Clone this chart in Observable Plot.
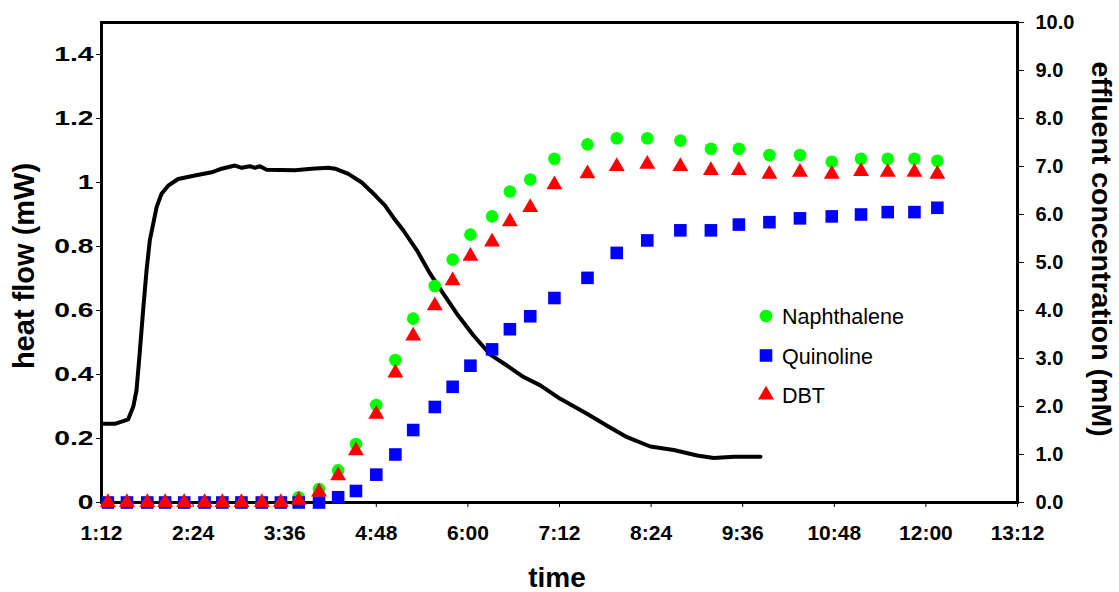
<!DOCTYPE html>
<html><head><meta charset="utf-8">
<script src="https://cdn.jsdelivr.net/npm/d3@7"></script>
<script src="https://cdn.jsdelivr.net/npm/@observablehq/plot@0.6"></script>
<style>
body{margin:0;background:#fff;}
#chart{position:relative;width:1119px;height:592px;}
</style></head><body><div id="chart"></div>
<script>
// ---- data (times in minutes since 0:00) ----
const sampleTimes = [77,92,108,122,137,153,167,182,198,213,227,243,258,272,288,303,317,334,348,362,379,393,409,428,454,477,501,527,551,573,597,621,646,669,690,711,729];
const naphthalene = [0,0,0,0,0,0,0,0,0,0,0.11,0.28,0.67,1.22,2.03,2.97,3.83,4.51,5.06,5.58,5.96,6.48,6.73,7.16,7.46,7.59,7.59,7.54,7.37,7.37,7.24,7.24,7.10,7.16,7.16,7.16,7.12];
const quinoline = [0,0,0,0,0,0,0,0,0,0,0,0,0.11,0.24,0.58,1.0,1.51,1.99,2.41,2.85,3.19,3.61,3.88,4.26,4.68,5.20,5.46,5.67,5.67,5.79,5.84,5.92,5.96,6.0,6.05,6.05,6.14];
const dbt = [0,0,0,0,0,0,0,0,0,0,0.05,0.22,0.56,1.08,1.84,2.70,3.47,4.10,4.62,5.13,5.43,5.85,6.15,6.62,6.85,7.00,7.05,7.00,6.92,6.92,6.84,6.88,6.84,6.90,6.88,6.88,6.84];

const heatTimes = [73,82.5,93,97,99.5,102,104.7,107.4,110,112.6,115.3,119.2,124.4,132.3,145.4,158.6,166.4,176.9,182.2,188.7,192.6,196.6,201.8,224.1,237.2,250.3,255.6,266,276.6,287.1,294.9,301.5,309.3,319.9,330.3,340.8,351.3,364.4,377.6,390.7,403.8,416.9,432.6,453.6,469.4,485.1,503.4,521.8,540.2,553.3,569,590];
const heatFlow = [0.246,0.246,0.26,0.30,0.35,0.465,0.60,0.725,0.82,0.87,0.923,0.965,0.99,1.011,1.022,1.032,1.043,1.053,1.046,1.051,1.046,1.051,1.04,1.038,1.043,1.046,1.043,1.027,1.00,0.96,0.928,0.89,0.85,0.788,0.715,0.652,0.59,0.522,0.462,0.428,0.392,0.366,0.324,0.277,0.24,0.204,0.175,0.164,0.147,0.139,0.143,0.143];

const seriesNames = ["Naphthalene","Quinoline","DBT"];
const seriesColors = ["#00ff00","#0000ff","#ff0000"];
const seriesSymbols = ["circle","square","triangle"];
const seriesR = [6.3,7.1,5.9];

const xTicks = [72,144,216,288,360,432,504,576,648,720,792];
const leftTicks = [0,0.2,0.4,0.6,0.8,1,1.2,1.4];
const rightTicks = [0,1,2,3,4,5,6,7,8,9,10];
const leftMax = 1.5, rightMax = 10;
const K = leftMax / rightMax;

const fmtTime = m => `${Math.floor(m/60)}:${String(m%60).padStart(2,"0")}`;

const heat = heatTimes.map((t,i)=>({t, v: heatFlow[i]}));
const seriesValues = [naphthalene, quinoline, dbt];
const seriesData = seriesValues.map(vals => sampleTimes.map((t,i)=>({t, c: vals[i]})));

const font = "'Liberation Sans', Arial, sans-serif";

const plot = Plot.plot({
  width: 1119, height: 592,
  marginLeft: 101, marginRight: 102, marginTop: 22, marginBottom: 90,
  style: {fontFamily: font, fontWeight: "bold", fontSize: "20px", background: "#fff", color: "#000", overflow: "visible"},
  x: {domain: [72, 792]},
  y: {domain: [0, leftMax]},
  marks: [
    Plot.frame({stroke: "#000", strokeWidth: 3}),
    Plot.axisY({anchor: "left", ticks: leftTicks, tickFormat: d => String(+d.toFixed(1)), tickSize: 5, tickPadding: 3, label: null, fontSize: 19.5}),
    Plot.axisY({anchor: "right", ticks: rightTicks.map(v => v * K), tickFormat: d => (d / K).toFixed(1), tickSize: 6, tickPadding: 12, label: null, fontSize: 20}),
    Plot.axisX({ticks: xTicks, tickFormat: fmtTime, tickSize: 5, tickPadding: 18, label: null, fontSize: 21}),
    Plot.line(heat, {x: "t", y: "v", stroke: "#000", strokeWidth: 4}),
    ...seriesData.map((data, k) => Plot.dot(data, {x: "t", y: d => d.c * K, symbol: seriesSymbols[k], r: seriesR[k], fill: seriesColors[k]}))
  ]
});

document.getElementById("chart").appendChild(plot);
const svg = d3.select(plot);

// the left tick labels of the reference are drawn horizontally wider
svg.selectAll("g[aria-label='y-axis tick label']").each(function(_, i) {
  if (i !== 0) return;
  d3.select(this).selectAll("text").each(function() {
    const t = d3.select(this);
    const tr = t.attr("transform") || "";
    t.attr("transform", tr + " scale(1.45,1)");
  });
});

// axis titles
svg.append("text").attr("transform", "translate(34,266) rotate(-90)")
  .attr("text-anchor", "middle").style("font-size", "29px").style("font-weight", "bold").style("font-family", font)
  .attr("fill", "#000").text("heat flow (mW)");
svg.append("text").attr("x", 557).attr("y", 587)
  .attr("text-anchor", "middle").style("font-size", "28px").style("font-weight", "bold").style("font-family", font)
  .attr("fill", "#000").text("time");
svg.append("text").attr("transform", "translate(1092,249) rotate(90)")
  .attr("text-anchor", "middle").style("font-size", "28.5px").style("font-weight", "bold").style("font-family", font)
  .attr("fill", "#000").text("effluent concentration (mM)");

// legend
const legendX = 766, legendY0 = 316, legendStep = 39.5;
const symMap = {circle: d3.symbolCircle, square: d3.symbolSquare, triangle: d3.symbolTriangle};
const lg = svg.append("g").attr("text-anchor", "start");
seriesNames.forEach((name, k) => {
  const y = legendY0 + k * legendStep;
  lg.append("path")
    .attr("transform", `translate(${legendX},${y})`)
    .attr("d", d3.symbol(symMap[seriesSymbols[k]], Math.PI * seriesR[k] ** 2)())
    .attr("fill", seriesColors[k]);
  lg.append("text").attr("x", legendX + 16).attr("y", y + 8)
    .attr("text-anchor", "start")
    .style("font-size", "21.5px").style("font-weight", "normal").style("font-family", font)
    .attr("fill", "#000").text(name);
});
</script>
</body></html>
